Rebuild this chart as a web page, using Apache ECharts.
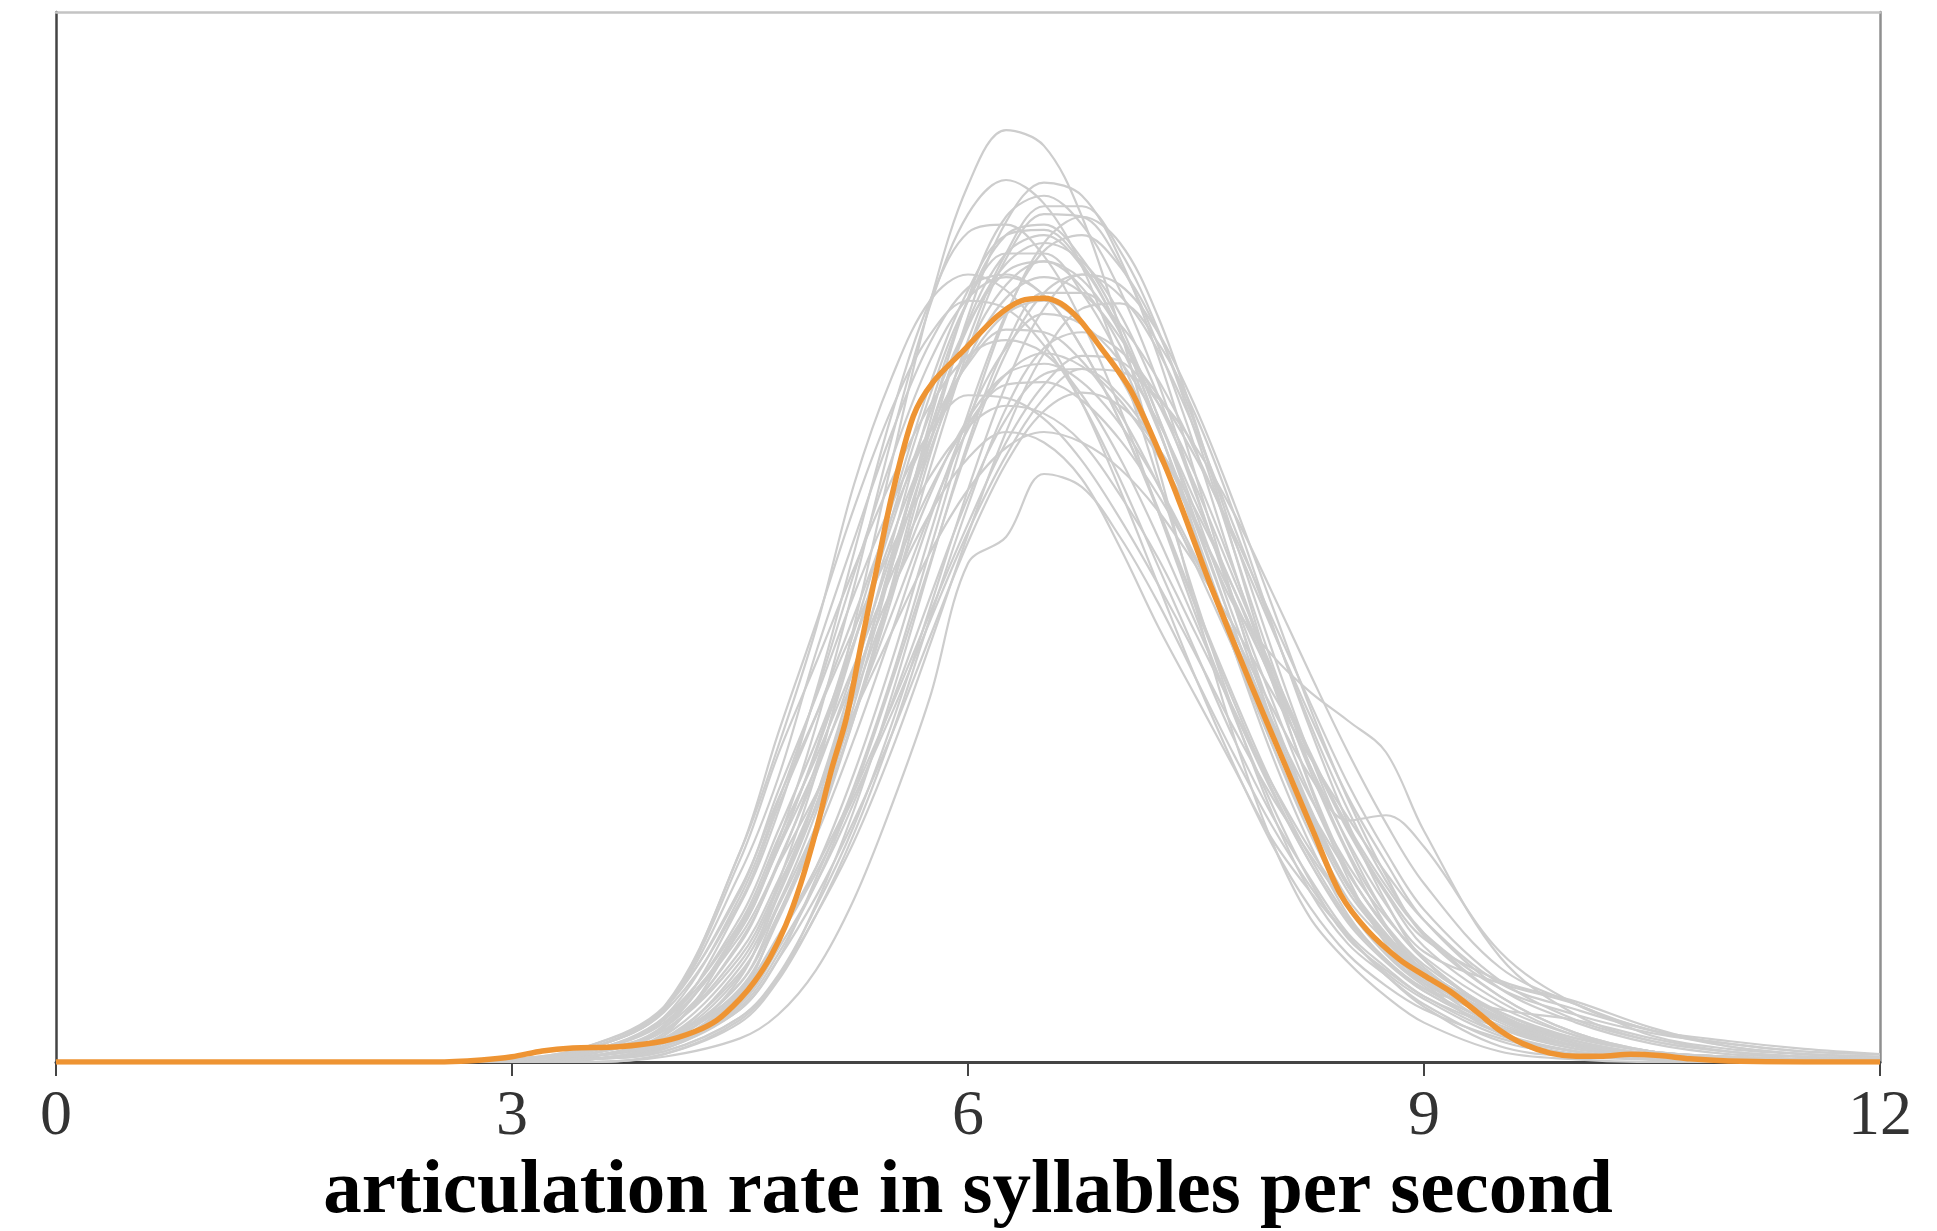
<!DOCTYPE html>
<html>
<head>
<meta charset="utf-8">
<script src="https://cdn.jsdelivr.net/npm/echarts@6/dist/echarts.min.js"></script>
<style>
html,body{margin:0;padding:0;background:#fff;}
#chart{width:1937px;height:1231px;}
</style>
</head>
<body>
<div id="chart"></div>
<script>
// x positions (syllables per second) at which the gray resample densities were read
const grayX = [2.5,3,3.5,4,4.5,4.75,5,5.25,5.5,5.75,6,6.25,6.5,6.75,7,7.25,7.5,7.75,8,8.25,8.5,8.75,9,9.5,10,10.5,11,11.5,12];
// gray curves: density x 1000
const gray1  = [0,0,1,6,32,68,110,166,229,289,334,355,349,322,279,227,173,124,84,55,38,25,15,4,1,0,0,0,0];
const gray2  = [0,0,2,10,51,84,128,181,238,288,323,336,327,303,266,222,176,133,95,65,45,33,22,8,3,1,0,0,0];
const gray3  = [0,0,1,6,26,56,89,132,182,236,284,320,335,330,306,269,223,175,129,91,59,41,29,11,4,1,0,0,0];
const gray4  = [0,0,1,6,27,55,90,136,189,244,291,322,330,319,294,259,217,174,133,97,68,49,34,16,6,2,1,0,0];
const gray5  = [0,0,2,8,30,59,90,131,177,226,271,306,323,322,304,273,233,188,145,106,73,51,36,16,6,2,1,0,0];
const gray6  = [0,0,3,14,60,95,141,194,247,290,316,319,307,282,249,210,170,132,98,69,47,35,25,11,4,1,0,0,0];
const gray7  = [0,1,3,13,52,81,119,164,212,258,294,315,317,304,278,242,201,160,121,87,60,43,31,13,5,2,1,0,0];
const gray8  = [0,0,1,6,22,47,74,110,153,201,247,285,309,315,303,278,242,200,157,117,83,56,39,18,7,3,1,0,0];
const gray9  = [0,0,2,11,46,75,113,159,208,254,290,308,308,293,268,234,196,157,121,89,62,46,32,16,6,2,1,0,0];
const gray10 = [0,1,4,13,45,76,110,150,194,236,272,296,305,298,278,246,209,169,130,96,67,47,34,17,6,3,2,1,1];
const gray11 = [0,0,1,4,17,33,59,90,129,173,218,258,287,300,296,278,249,213,174,135,100,71,48,25,11,4,2,1,0];
const gray12 = [0,1,5,20,72,108,156,199,240,274,295,300,292,272,244,211,174,139,106,78,55,39,28,14,6,2,1,0,0];
const gray13 = [0,0,0,3,16,32,60,96,140,189,236,273,293,293,281,260,232,199,165,132,101,76,54,28,15,7,3,2,1];
const gray14 = [0,1,4,16,55,88,122,160,200,237,267,285,290,281,261,232,198,161,126,94,67,48,35,18,7,3,1,1,0];
const gray15 = [0,0,1,4,17,32,56,84,119,159,201,240,270,287,289,274,246,209,167,127,91,61,39,18,8,3,1,0,0];
const gray16 = [0,1,6,21,80,125,167,211,249,277,290,287,273,251,222,189,156,123,94,70,49,36,25,13,6,2,1,0,0];
const gray17 = [0,0,2,8,30,56,86,123,164,207,245,272,285,281,267,244,213,180,145,113,84,60,42,30,22,10,5,3,2];
const gray18 = [0,1,5,19,61,97,132,170,208,241,266,279,278,267,247,220,189,157,125,96,72,51,35,19,9,4,2,1,1];
const gray19 = [0,0,0,3,15,31,56,87,125,169,212,249,272,278,271,254,230,201,169,137,106,80,58,31,16,8,4,2,1];
const gray20 = [0,1,5,20,77,117,152,188,222,250,269,275,270,254,230,200,167,134,103,76,54,39,27,13,6,2,1,0,0];
const gray21 = [0,1,3,12,40,67,97,133,171,209,241,262,270,265,252,231,205,176,146,117,90,67,49,28,18,11,7,4,3];
const gray22 = [0,0,1,6,22,43,68,99,137,177,215,245,262,264,254,234,206,174,155,141,130,118,88,40,18,8,4,2,1];
const gray23 = [0,1,4,17,53,85,116,151,186,218,243,258,259,252,237,216,191,163,135,109,92,94,82,42,22,12,6,3,2];
const gray24 = [0,1,5,20,66,100,132,165,196,223,242,250,247,236,216,192,163,134,106,81,60,42,30,16,8,3,1,1,0];
const gray25 = [0,0,1,6,20,39,63,92,125,162,198,228,248,255,250,234,210,180,148,117,88,64,44,23,10,4,2,1,0];
const gray26 = [0,1,4,16,50,81,112,146,180,209,230,240,236,222,196,166,139,112,85,65,48,33,21,6,2,1,0,0,0];
const gray27 = [0,0,0,2,9,18,35,62,98,139,190,200,224,219,200,175,146,117,90,67,48,34,24,10,4,1,0,0,0];
const gray28 = [0,1,6,21,65,103,139,178,213,240,254,253,245,229,207,182,155,127,101,79,59,43,31,17,9,4,2,1,1];
const gray29 = [0,0,2,9,27,48,74,103,136,171,205,236,258,269,267,251,223,187,148,111,79,52,33,15,6,2,1,0,0];
const gray30 = [0,1,4,15,48,75,102,133,164,194,218,234,240,236,226,210,189,166,141,116,93,72,54,30,20,12,8,5,3];
const gray31 = [0,1,5,20,80,120,165,220,261,290,300,294,277,251,218,182,146,113,83,59,41,29,20,9,3,1,0,0,0];
const gray32 = [0,0,1,5,20,39,70,105,147,195,243,284,312,322,312,284,243,195,147,105,70,45,30,11,4,1,0,0,0];
const gray33 = [0,0,2,8,26,47,72,101,133,168,202,231,253,264,263,253,234,209,179,148,118,91,68,36,22,12,7,4,3];
const gray34 = [0,0,2,8,33,63,98,142,191,240,282,308,315,303,278,242,200,157,117,83,56,39,28,20,16,9,4,2,1];
const gray35 = [0,0,1,8,36,64,101,147,198,249,290,315,319,306,281,246,206,165,127,93,65,47,33,16,6,2,1,0,0];
const gray36 = [0,1,3,14,50,82,118,160,205,247,281,301,305,295,273,241,204,165,128,95,67,48,34,17,7,3,1,1,0];
const gray37 = [0,0,2,9,34,60,95,140,192,241,280,304,312,305,285,254,216,176,138,102,72,52,37,19,8,3,1,0,0];
const gray38 = [0,0,1,5,21,41,68,103,145,190,234,270,293,300,292,271,240,204,166,129,96,69,49,25,11,4,2,1,0];
const gray39 = [0,1,4,17,63,99,140,186,230,267,291,299,292,272,244,210,173,137,104,76,53,38,27,13,5,2,1,0,0];
const gray40 = [0,1,3,12,42,69,101,139,179,216,245,262,266,259,243,220,192,161,130,101,75,55,40,21,10,4,2,1,0];
const gray41 = [0,0,1,7,28,54,88,131,180,231,275,308,326,326,309,279,239,195,152,113,80,56,39,18,7,3,1,0,0];
const gray42 = [0,0,2,10,38,66,101,143,189,233,268,291,299,293,276,251,219,184,150,118,89,65,47,31,23,13,6,3,2];
const grayCurves = [gray1,gray2,gray3,gray4,gray5,gray6,gray7,gray8,gray9,gray10,gray11,gray12,gray13,gray14,gray15,gray16,gray17,gray18,gray19,gray20,gray21,gray22,gray23,gray24,gray25,gray26,gray27,gray28,gray29,gray30,gray31,gray32,gray33,gray34,gray35,gray36,gray37,gray38,gray39,gray40,gray41,gray42];

// orange (observed) density curve: density x 1000
const orangeX = [0,1,2,2.5,2.8,3.0,3.2,3.4,3.7,4.0,4.2,4.35,4.5,4.6,4.7,4.8,4.9,5.0,5.1,5.2,5.3,5.4,5.5,5.64,5.77,5.97,6.19,6.35,6.5,6.61,6.73,6.85,7.07,7.29,7.4,7.49,7.6,7.86,8.08,8.27,8.45,8.63,8.84,9.0,9.17,9.35,9.5,9.65,9.83,10.0,10.16,10.36,10.55,10.75,11.0,11.5,12];
const orangeY = [0,0,0,0,0.8,2,4.2,5.3,5.8,8,11.5,16,24,31,40,52,68,88,111,131,160,188,216,246,259,271,284,290,291,289,283,274,256,228,212,198,181,144,114,88,64,50,39,33,27,19,12,7,3.4,2.2,2.2,3,2.5,1.2,0.4,0,0];

const xTicks = [0,3,6,9,12];
const xTitle = 'articulation rate in syllables per second';

const series = grayCurves.map(function (c, i) {
  return {
    type: 'line', name: 'resample ' + (i + 1),
    data: grayX.map(function (x, j) { return [x, c[j]]; }),
    smooth: 0.35, showSymbol: false, silent: true,
    lineStyle: { color: '#cdcdcd', width: 2.2 }, z: 2
  };
});
series.push({
  type: 'line', name: 'observed',
  data: orangeX.map(function (x, j) { return [x, orangeY[j]]; }),
  smooth: 0.3, showSymbol: false, silent: true,
  lineStyle: { color: '#EE9433', width: 5.5 }, z: 5
});

const chart = echarts.init(document.getElementById('chart'), null, { renderer: 'canvas' });
chart.setOption({
  animation: false,
  backgroundColor: '#ffffff',
  grid: { left: 56, right: 57, top: 12, bottom: 169, containLabel: false, outerBoundsMode: 'none' },
  xAxis: [{
    type: 'value', min: xTicks[0], max: xTicks[xTicks.length - 1], interval: 3,
    position: 'bottom',
    axisLine: { show: true, onZero: false, lineStyle: { color: '#444', width: 3 } },
    axisTick: { show: true, length: 14, lineStyle: { color: '#444', width: 2 } },
    axisLabel: { fontFamily: 'Liberation Serif', fontSize: 64, color: '#333', margin: 23 },
    splitLine: { show: false },
    name: xTitle, nameLocation: 'middle', nameGap: 91,
    nameTextStyle: { fontFamily: 'Liberation Serif', fontWeight: 'bold', fontSize: 77, color: '#000' }
  }, {
    type: 'value', min: 0, max: 12, position: 'top',
    axisLine: { show: true, onZero: false, lineStyle: { color: '#c4c4c4', width: 2.5 } },
    axisTick: { show: false }, axisLabel: { show: false }, splitLine: { show: false }
  }],
  yAxis: [{
    type: 'value', min: 0, max: 400, position: 'left',
    axisLine: { show: true, onZero: false, lineStyle: { color: '#444', width: 2.5 } },
    axisTick: { show: false }, axisLabel: { show: false }, splitLine: { show: false }
  }, {
    type: 'value', min: 0, max: 400, position: 'right',
    axisLine: { show: true, onZero: false, lineStyle: { color: '#8f8f8f', width: 2.5 } },
    axisTick: { show: false }, axisLabel: { show: false }, splitLine: { show: false }
  }],
  series: series
});
</script>
</body>
</html>
